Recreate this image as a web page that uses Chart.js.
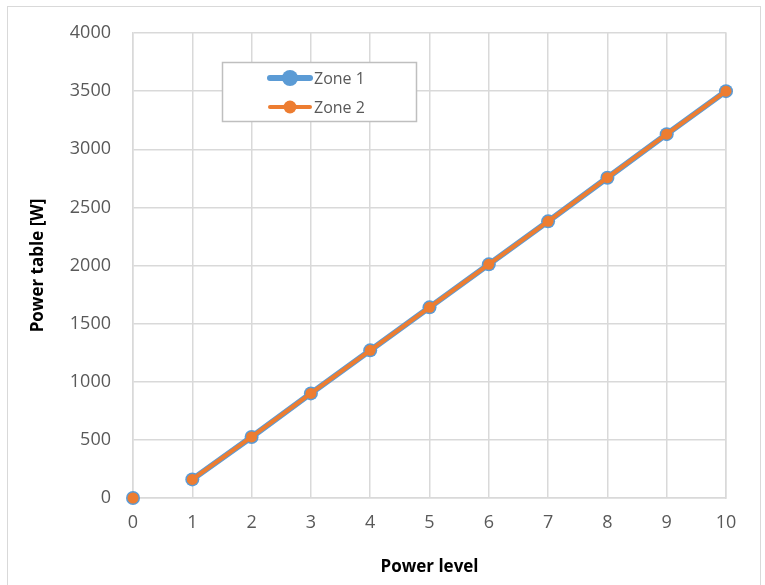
<!DOCTYPE html>
<html>
<head>
<meta charset="utf-8">
<script src="https://cdn.jsdelivr.net/npm/chart.js@4/dist/chart.umd.min.js"></script>
<style>
  html, body { margin: 0; padding: 0; background: #fff; }
  #wrap { position: relative; width: 765px; height: 585px; }
</style>
</head>
<body>
<div id="wrap"><canvas id="powerChart" width="765" height="585"></canvas></div>
<script>
// ── Data ─────────────────────────────────────────
const levels = [0, 1, 2, 3, 4, 5, 6, 7, 8, 9, 10];
const zone1 = [0, 160, 525, 900, 1270, 1640, 2010, 2380, 2755, 3130, 3500];
const zone2 = [0, 160, 525, 900, 1270, 1640, 2010, 2380, 2755, 3130, 3500];
const yTicks = [0, 500, 1000, 1500, 2000, 2500, 3000, 3500, 4000];

const tickFont = { family: "'Open Sans', sans-serif", size: 18 };
const titleFont = { family: "'Open Sans', sans-serif", size: 17, weight: "bold" };

function toPoints(values) {
  return levels.map((x, i) => ({ x: x, y: values[i] }));
}

// no line between level 0 and level 1
const hideFirstSegment = (ctx) => (ctx.p0DataIndex === 0 ? "rgba(0,0,0,0)" : undefined);

// ── Frame + legend box drawn on the canvas ────────
const framePlugin = {
  id: "frame",
  beforeDraw(chart) {
    const c = chart.ctx;
    c.save();
    c.strokeStyle = "#d9d9d9";
    c.lineWidth = 1;
    c.strokeRect(7.5, 6.5, 753, 600);
    c.restore();
  },
  afterDraw(chart) {
    const c = chart.ctx;
    const x0 = 222, y0 = 62, w = 194, h = 59;
    c.save();
    c.fillStyle = "#fff";
    c.fillRect(x0, y0, w, h);
    c.strokeStyle = "#bfbfbf";
    c.lineWidth = 1.5;
    c.strokeRect(x0 + 0.5, y0 + 0.5, w, h);
    const items = [chart.data.datasets[0], chart.data.datasets[1]];
    items.forEach((ds, i) => {
      const cy = y0 + 16 + i * 29;
      c.strokeStyle = ds.borderColor;
      c.lineWidth = ds.borderWidth;
      c.lineCap = "round";
      c.beginPath();
      c.moveTo(270, cy);
      c.lineTo(310, cy);
      c.stroke();
      c.fillStyle = ds.pointBackgroundColor;
      c.beginPath();
      c.arc(290, cy, ds.pointRadius + 1, 0, Math.PI * 2);
      c.fill();
      c.fillStyle = "#595959";
      c.font = "16px 'Open Sans', sans-serif";
      c.textBaseline = "middle";
      c.fillText(ds.label, 314, cy + 1);
    });
    c.restore();
  },
};

// ── Line chart ───────────────────────────────────
new Chart(document.getElementById("powerChart"), {
  type: "line",
  data: {
    datasets: [
      {
        label: "Zone 1",
        data: toPoints(zone1),
        order: 2,
        borderColor: "#5b9bd5",
        backgroundColor: "#5b9bd5",
        pointBackgroundColor: "#5b9bd5",
        pointBorderColor: "#5b9bd5",
        borderWidth: 6,
        pointRadius: 7,
        pointBorderWidth: 0,
        clip: false,
        segment: { borderColor: hideFirstSegment },
      },
      {
        label: "Zone 2",
        data: toPoints(zone2),
        order: 1,
        borderColor: "#ed7d31",
        backgroundColor: "#ed7d31",
        pointBackgroundColor: "#ed7d31",
        pointBorderColor: "#ed7d31",
        borderWidth: 4,
        pointRadius: 5.5,
        pointBorderWidth: 0,
        clip: false,
        segment: { borderColor: hideFirstSegment },
      },
    ],
  },
  options: {
    responsive: false,
    animation: false,
    layout: { padding: { left: 0, top: 33, right: 39, bottom: 0 } },
    plugins: {
      legend: { display: false },
      tooltip: { enabled: false },
    },
    scales: {
      x: {
        type: "linear",
        min: 0,
        max: 10,
        ticks: { stepSize: 1, color: "#595959", font: tickFont, padding: 14 },
        grid: { color: "#d9d9d9", lineWidth: 1.5, drawTicks: false },
        border: { color: "#d9d9d9", width: 1.5 },
        title: { display: true, text: "Power level", color: "#000", font: titleFont, padding: { top: 8, bottom: 8 } },
        afterFit(scale) { scale.height = 87; },
      },
      y: {
        min: 0,
        max: 4000,
        afterBuildTicks(scale) { scale.ticks = yTicks.map((v) => ({ value: v })); },
        ticks: {
          color: "#595959",
          font: tickFont,
          padding: 22,
          callback: (v) => String(v),
        },
        grid: { color: "#d9d9d9", lineWidth: 1.5, drawTicks: false },
        border: { color: "#d9d9d9", width: 1.5 },
        title: { display: true, text: "Power table [W]", color: "#000", font: titleFont, padding: { top: 28, bottom: 0 } },
        afterFit(scale) { scale.width = 133; },
      },
      y2: {
        position: "right",
        display: true,
        min: 0,
        max: 4000,
        ticks: { display: false },
        grid: { display: false },
        border: { color: "#d9d9d9", width: 1.5 },
        afterFit(scale) { scale.width = 0; },
      },
    },
  },
  plugins: [framePlugin],
});
</script>
</body>
</html>
